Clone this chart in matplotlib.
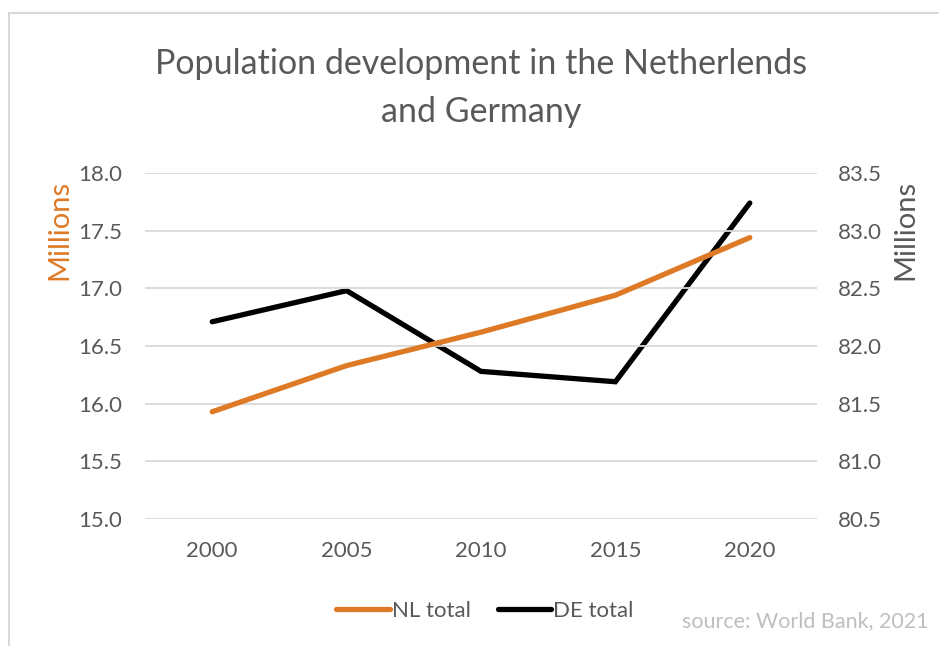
import matplotlib.pyplot as plt
from matplotlib.lines import Line2D

plt.rcParams['font.family'] = ['Lato', 'DejaVu Sans']

years = ['2000', '2005', '2010', '2015', '2020']
nl_total = [15.93, 16.33, 16.62, 16.94, 17.44]
de_total = [82.21, 82.48, 81.78, 81.69, 83.24]

orange = '#DE7A26'
grey = '#595959'

fig = plt.figure(figsize=(9.39, 6.46), dpi=100)
ax = fig.add_axes([145 / 939, 1 - 519 / 646, 672 / 939, 346 / 646])
ax2 = ax.twinx()

x = range(len(years))
ax.plot(x, nl_total, color=orange, lw=3.8, solid_capstyle='round', zorder=3)
ax2.plot(x, de_total, color='black', lw=3.8, solid_capstyle='round',
         solid_joinstyle='miter')

ax.set_xlim(-0.5, 4.5)
ax.set_ylim(15.0, 18.0)
ax2.set_ylim(80.5, 83.5)
ax.set_yticks([15.0, 15.5, 16.0, 16.5, 17.0, 17.5, 18.0])
ax2.set_yticks([80.5, 81.0, 81.5, 82.0, 82.5, 83.0, 83.5])
ax.yaxis.set_major_formatter('{x:.1f}')
ax2.yaxis.set_major_formatter('{x:.1f}')
ax.set_xticks(list(x))
ax.set_xticklabels(years)

ax.grid(axis='y', color='#d9d9d9', lw=1.3)
ax.set_axisbelow(True)
for a in (ax, ax2):
    for s in a.spines.values():
        s.set_visible(False)
    a.tick_params(length=0, labelsize=16, labelcolor=grey)
ax.tick_params(axis='y', pad=16.5)
ax2.tick_params(axis='y', pad=15)
ax.tick_params(axis='x', pad=16)
ax.set_zorder(ax2.get_zorder() + 1)
ax.patch.set_visible(False)

fig.text(59 / 939, 1 - 230 / 646, 'Millions', rotation=90, color=orange,
         fontsize=21, ha='center', va='center')
fig.text(905 / 939, 1 - 230 / 646, 'Millions', rotation=90, color=grey,
         fontsize=21, ha='center', va='center')

fig.text(481 / 939, 1 - 88 / 646,
         'Population development in the Netherlends\nand Germany',
         ha='center', va='center', fontsize=24.5, color=grey, linespacing=1.6)

handles = [Line2D([], [], color=orange, lw=3.8, solid_capstyle='round'),
           Line2D([], [], color='black', lw=3.8, solid_capstyle='round')]
fig.legend(handles, ['NL total', 'DE total'], loc='center',
           bbox_to_anchor=(485 / 939, 1 - 611 / 646), ncol=2, frameon=False,
           fontsize=16, labelcolor=grey, handlelength=2.4, handletextpad=0.1,
           columnspacing=1.2)

fig.text(929 / 939, 1 - 621 / 646, 'source: World Bank, 2021', ha='right',
         va='center', fontsize=15.5, color='#bfbfbf')

# thin frame along the top and left edge
fig.add_artist(Line2D([8.5 / 939, 8.5 / 939], [0, 1 - 12.5 / 646],
                      color='#d9d9d9', lw=1.5))
fig.add_artist(Line2D([8.5 / 939, 1], [1 - 12.5 / 646, 1 - 12.5 / 646],
                      color='#d9d9d9', lw=1.5))

fig.savefig('out.png', dpi=100)
